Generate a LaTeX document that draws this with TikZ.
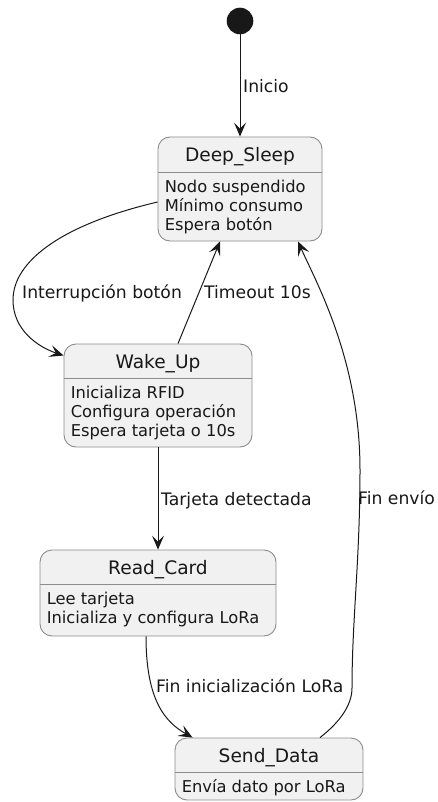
\documentclass[tikz,border=0pt]{standalone}
\usepackage{fontspec}
\setmainfont{DejaVu Sans}
\usetikzlibrary{arrows.meta}
\definecolor{stfill}{HTML}{F1F1F1}
\definecolor{stline}{HTML}{8C8C8C}
\definecolor{ink}{HTML}{181818}
\tikzset{
  state/.style={draw=stline, fill=stfill, line width=0.9pt, rounded corners=12pt, inner sep=0pt},
  sepline/.style={draw=stline, line width=0.9pt},
  stname/.style={inner sep=0pt, anchor=base, text=ink, font=\fontsize{18.6}{22}\selectfont},
  % base of a multi-line body = baseline of its last line
  stbody/.style={inner sep=0pt, anchor=base west, align=left, text=ink, font=\fontsize{16.3}{19}\selectfont},
  trans/.style={draw=ink, line width=1pt, -{Stealth[length=14pt,width=12pt,inset=6pt]}},
  tlabel/.style={inner sep=0pt, anchor=base west, text=ink, font=\fontsize{17.2}{20}\selectfont}
}

\begin{document}
\begin{tikzpicture}[x=1pt,y=-1pt]
  \useasboundingbox (0,0) rectangle (437,802);
  % initial point
  \node[circle, fill=ink, minimum size=26.6pt, inner sep=0pt] (start) at (240,21) {};

  % states
  \node[state, minimum width=164pt, minimum height=104pt] (deep) at (240,189) {};
  \draw[sepline] ([yshift=-36pt]deep.north west) -- ([yshift=-36pt]deep.north east);
  \node[stname] (deepname) at ([yshift=-25pt]deep.north) {Deep\_Sleep};
  \node[stbody] (deepbody) at ([xshift=7pt,yshift=-94pt]deep.north west) {Nodo suspendido\\Mínimo consumo\\Espera botón};

  \node[state, minimum width=188pt, minimum height=103pt] (wake) at (158,395.5) {};
  \draw[sepline] ([yshift=-35pt]wake.north west) -- ([yshift=-35pt]wake.north east);
  \node[stname] (wakename) at ([yshift=-25pt]wake.north) {Wake\_Up};
  \node[stbody] (wakebody) at ([xshift=7pt,yshift=-93pt]wake.north west) {Inicializa RFID\\Configura operación\\Espera tarjeta o 10s};

  \node[state, minimum width=236pt, minimum height=86pt] (read) at (158,593) {};
  \draw[sepline] ([yshift=-35pt]read.north west) -- ([yshift=-35pt]read.north east);
  \node[stname] (readname) at ([yshift=-25pt]read.north) {Read\_Card};
  \node[stbody] (readbody) at ([xshift=7pt,yshift=-74pt]read.north west) {Lee tarjeta\\Inicializa y configura LoRa};

  \node[state, minimum width=188pt, minimum height=62pt] (send) at (269,769) {};
  \draw[sepline] ([yshift=-35pt]send.north west) -- ([yshift=-35pt]send.north east);
  \node[stname] (sendname) at ([yshift=-25pt]send.north) {Send\_Data};
  \node[stbody] (sendbody) at ([xshift=7pt,yshift=-55pt]send.north west) {Envía dato por LoRa};

  % transitions
  \draw[trans] (start) -- (deep);
  \node[tlabel] (linicio) at (243,93) {Inicio};

  \draw[trans] ([yshift=-13pt]deep.west) .. controls (60,225) and (13,262) .. (13,300)
    .. controls (13,330) and (38,347) .. ([yshift=-12pt]wake.north west);
  \node[tlabel] (lirq) at (22,298) {Interrupción botón};

  \draw[trans] ([xshift=20pt]wake.north) -- ([xshift=-20pt]deep.south);
  \node[tlabel] (ltimeout) at (204,298) {Timeout 10s};

  \draw[trans] (wake) -- (read);
  \node[tlabel] (ltarjeta) at (161,505) {Tarjeta detectada};

  \draw[trans] ([xshift=-12pt]read.south) .. controls (146,700) and (165,722) .. ([xshift=18pt]send.north west);
  \node[tlabel] (llora) at (156,692) {Fin inicialización LoRa};

  \draw[trans] ([xshift=51pt]send.north) .. controls (340,722) and (352,705) .. (352,688)
    .. controls (352,620) and (360,560) .. (360,470)
    .. controls (360,360) and (316,282) .. ([xshift=58pt]deep.south);
  \node[tlabel] (lenvio) at (358,504) {Fin envío};
\end{tikzpicture}
\end{document}
